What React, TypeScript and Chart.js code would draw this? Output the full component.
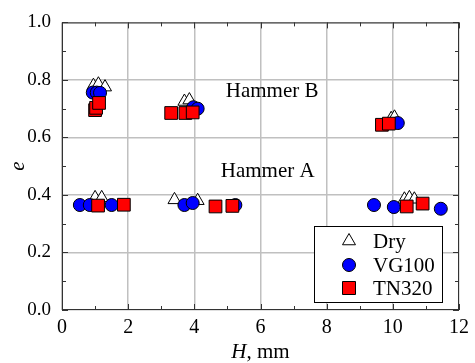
import React, { useEffect, useRef } from "react";
import { Chart, registerables } from "chart.js";
Chart.register(...registerables);

const FONT = "'Liberation Serif', 'Times New Roman', serif";

// Dry (triangles)
const dryH = [0.95, 1.1, 1.3, 3.7, 3.85, 9.95, 10.05, 1.0, 1.2, 3.4, 4.1, 10.35, 10.5, 10.65];
const dryE = [0.78, 0.785, 0.775, 0.725, 0.73, 0.665, 0.67, 0.39, 0.39, 0.383, 0.38, 0.385, 0.39, 0.385];
// VG100 (circles)
const vgH = [0.93, 1.05, 1.15, 3.97, 4.1, 10.15, 0.54, 0.84, 1.5, 3.7, 3.95, 5.24, 9.43, 10.03, 11.45];
const vgE = [0.756, 0.756, 0.755, 0.705, 0.7, 0.65, 0.365, 0.365, 0.365, 0.365, 0.372, 0.365, 0.365, 0.358, 0.352];
// TN320 (squares)
const tnH = [1.0, 1.03, 1.12, 3.3, 3.73, 3.95, 9.67, 9.88, 1.09, 1.87, 4.64, 5.15, 10.42, 10.9];
const tnE = [0.695, 0.703, 0.72, 0.685, 0.685, 0.687, 0.644, 0.648, 0.363, 0.366, 0.36, 0.362, 0.36, 0.37];

const seriesNames = ["Dry", "VG100", "TN320"];
const annotations = [
  { text: "Hammer B", x: 4.95, y: 0.76 },
  { text: "Hammer A", x: 4.8, y: 0.483 },
];
const xTicks = [0, 2, 4, 6, 8, 10, 12];
const yTicks = [0, 0.2, 0.4, 0.6, 0.8, 1.0];

const pts = (h: number[], e: number[]) => h.map((x, i) => ({ x, y: e[i] }));

const TXT = 21;

const framePlugin = {
  id: "frame",
  afterDatasetsDraw(chart: any) {
    const { ctx, chartArea: a, scales } = chart;
    const xs = scales.x, ys = scales.y;
    ctx.save();
    // frame
    ctx.strokeStyle = "#333";
    ctx.lineWidth = 1;
    ctx.strokeRect(a.left + 0.5, a.top + 0.5, a.right - a.left - 1, a.bottom - a.top - 1);
    // ticks
    ctx.beginPath();
    for (let v = 0; v <= 12; v += 1) {
      const px = Math.round(xs.getPixelForValue(v)) + 0.5;
      const len = v % 2 === 0 ? 6 : 4;
      ctx.moveTo(px, a.bottom); ctx.lineTo(px, a.bottom - len);
      ctx.moveTo(px, a.top); ctx.lineTo(px, a.top + len);
    }
    for (let i = 0; i <= 10; i++) {
      const py = Math.round(ys.getPixelForValue(i / 10)) + 0.5;
      const len = i % 2 === 0 ? 6 : 4;
      ctx.moveTo(a.left, py); ctx.lineTo(a.left + len, py);
      ctx.moveTo(a.right, py); ctx.lineTo(a.right - len, py);
    }
    ctx.stroke();

    // annotations
    ctx.fillStyle = "#000";
    ctx.font = `${TXT}px ${FONT}`;
    ctx.textBaseline = "middle";
    ctx.textAlign = "left";
    annotations.forEach((t) => {
      ctx.fillText(t.text, xs.getPixelForValue(t.x), ys.getPixelForValue(t.y));
    });

    // axis titles
    const cx = (a.left + a.right) / 2;
    ctx.font = `italic ${TXT}px ${FONT}`;
    const wH = ctx.measureText("H").width;
    ctx.font = `${TXT}px ${FONT}`;
    const wR = ctx.measureText(", mm").width;
    const sx = cx - (wH + wR) / 2;
    const ty = 352;
    ctx.font = `italic ${TXT}px ${FONT}`;
    ctx.fillText("H", sx, ty);
    ctx.font = `${TXT}px ${FONT}`;
    ctx.fillText(", mm", sx + wH, ty);

    ctx.save();
    ctx.translate(18, (a.top + a.bottom) / 2);
    ctx.rotate(-Math.PI / 2);
    ctx.textAlign = "center";
    ctx.font = `italic ${TXT}px ${FONT}`;
    ctx.fillText("e", 0, 0);
    ctx.restore();

    // legend
    const lx = 314.5, ly = 226.5, lw = 128, lh = 76;
    ctx.fillStyle = "#fff";
    ctx.fillRect(lx, ly, lw, lh);
    ctx.strokeStyle = "#000";
    ctx.strokeRect(lx, ly, lw, lh);
    const mx = 349;
    const rows = [241, 265, 288];
    ctx.lineWidth = 1;
    const r = 7.5;
    ctx.beginPath();
    ctx.moveTo(mx, rows[0] - r);
    ctx.lineTo(mx + r * Math.sin((2 * Math.PI) / 3), rows[0] - r * Math.cos((2 * Math.PI) / 3));
    ctx.lineTo(mx + r * Math.sin((4 * Math.PI) / 3), rows[0] - r * Math.cos((4 * Math.PI) / 3));
    ctx.closePath();
    ctx.fillStyle = "#fff"; ctx.fill(); ctx.stroke();
    ctx.beginPath();
    ctx.arc(mx, rows[1], 6.5, 0, Math.PI * 2);
    ctx.fillStyle = "#0000ff"; ctx.fill(); ctx.stroke();
    ctx.beginPath();
    ctx.rect(mx - 6.5, rows[2] - 6.5, 13, 13);
    ctx.fillStyle = "#ff0000"; ctx.fill(); ctx.stroke();
    ctx.fillStyle = "#000";
    ctx.font = `${TXT}px ${FONT}`;
    ctx.textAlign = "left";
    seriesNames.forEach((n, i) => ctx.fillText(n, 373, rows[i] + 1));
    ctx.restore();
  },
};

export default function App() {
  const ref = useRef<HTMLCanvasElement>(null);
  useEffect(() => {
    document.body.style.margin = "0";
    const chart = new Chart(ref.current!, {
      type: "scatter",
      data: {
        datasets: [
          {
            label: seriesNames[0], data: pts(dryH, dryE), pointStyle: "triangle", pointRadius: 7.5,
            backgroundColor: "#fff", borderColor: "#000", borderWidth: 1, order: 3,
          },
          {
            label: seriesNames[1], data: pts(vgH, vgE), pointStyle: "circle", pointRadius: 6.5,
            backgroundColor: "#0000ff", borderColor: "#000", borderWidth: 1, order: 2,
          },
          {
            label: seriesNames[2], data: pts(tnH, tnE), pointStyle: "rect", pointRadius: 9,
            backgroundColor: "#ff0000", borderColor: "#000", borderWidth: 1, order: 1,
          },
        ],
      },
      options: {
        animation: false,
        responsive: false,
        layout: { padding: { top: 15, right: 14, left: 0, bottom: 0 } },
        plugins: { legend: { display: false }, tooltip: { enabled: false } },
        scales: {
          x: {
            type: "linear", min: 0, max: 12,
            afterBuildTicks: (s: any) => { s.ticks = xTicks.map((v) => ({ value: v })); },
            afterFit: (s: any) => { s.height = 53; },
            ticks: { font: { family: FONT, size: 20 }, color: "#000", padding: 6, maxRotation: 0 },
            grid: { color: "#c0c0c0", lineWidth: 1.5, drawTicks: false },
            border: { display: false },
          },
          y: {
            type: "linear", min: 0, max: 1,
            afterBuildTicks: (s: any) => { s.ticks = yTicks.map((v) => ({ value: v })); },
            afterFit: (s: any) => { s.width = 62; },
            ticks: { font: { family: FONT, size: 19 }, color: "#000", padding: 11, callback: (v: any) => Number(v).toFixed(1) },
            grid: { color: "#c0c0c0", lineWidth: 1.5, drawTicks: false },
            border: { display: false },
          },
        },
      },
      plugins: [framePlugin],
    });
    return () => chart.destroy();
  }, []);
  return (
    <div style={{ position: "absolute", left: 0, top: 0, width: 475, height: 363 }}>
      <canvas ref={ref} width={475} height={363} />
    </div>
  );
}
